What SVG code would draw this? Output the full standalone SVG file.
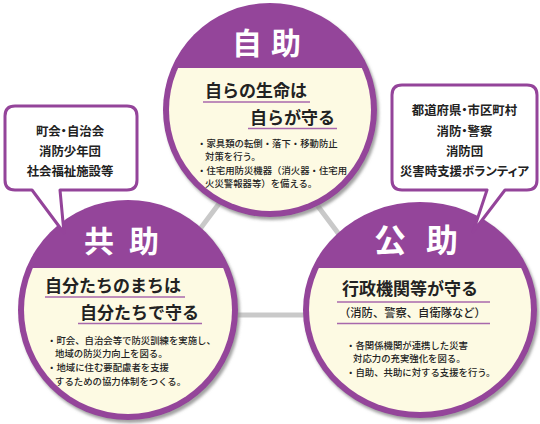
<svg xmlns="http://www.w3.org/2000/svg" width="540" height="424" viewBox="0 0 540 424">
<defs>
<style>
.ring{fill:#94449a;}
.cream{fill:#fdfae3;}
.title{font-family:"Noto Sans CJK JP","Noto Sans",sans-serif;font-weight:bold;fill:#ffffff;}
.head{font-family:"Noto Sans CJK JP","Noto Sans",sans-serif;font-weight:bold;font-size:17px;fill:#222222;}
.sub{font-family:"Noto Sans CJK JP","Noto Sans",sans-serif;font-weight:500;font-size:11.3px;fill:#222222;}
.body{font-family:"Noto Sans CJK JP","Noto Sans",sans-serif;font-weight:500;font-size:9.4px;fill:#222222;}
.bub{font-family:"Noto Sans CJK JP","Noto Sans",sans-serif;font-weight:bold;font-size:12.4px;fill:#222222;text-anchor:middle;font-feature-settings:"palt";}
.uline{stroke:#a868ac;stroke-width:1.3;fill:none;}
.bubble{fill:#ffffff;stroke:#94449a;stroke-width:3;stroke-linejoin:round;}
.conn{stroke:#c9c9c9;stroke-width:5;fill:none;}
</style>
<filter id="sh" x="-10%" y="-10%" width="125%" height="125%">
<feDropShadow dx="2" dy="3" stdDeviation="1.5" flood-color="#8a8a8a" flood-opacity="0.8"/>
</filter>
<clipPath id="cTop"><rect x="0" y="68" width="540" height="356"/></clipPath>
<clipPath id="cLow"><rect x="0" y="268" width="540" height="156"/></clipPath>
</defs>
<rect width="540" height="424" fill="#ffffff"/>

<g id="connectors">
<line class="conn" x1="230" y1="189" x2="185" y2="249"/>
<line class="conn" x1="305" y1="189" x2="350" y2="249"/>
<line class="conn" x1="200" y1="315" x2="340" y2="315"/>
</g>

<g id="jijo">
<circle class="ring" cx="270" cy="110" r="107" filter="url(#sh)"/>
<circle class="cream" cx="270" cy="110" r="101" clip-path="url(#cTop)"/>
<text class="title" x="232" y="54" font-size="30" letter-spacing="9">自助</text>
<text class="head" x="205" y="97">自らの生命は</text>
<line class="uline" x1="203" y1="102" x2="310" y2="102"/>
<text class="head" x="250" y="124">自らが守る</text>
<line class="uline" x1="248" y1="128.5" x2="337" y2="128.5"/>
<text class="body" x="197" y="147">・家具類の転倒・落下・移動防止</text>
<text class="body" x="205" y="160">対策を行う。</text>
<text class="body" x="197" y="174">・住宅用防災機器（消火器・住宅用</text>
<text class="body" x="205" y="187">火災警報器等）を備える。</text>
</g>

<g id="kyojo">
<circle class="ring" cx="128" cy="310" r="110" filter="url(#sh)"/>
<circle class="cream" cx="128" cy="310" r="104" clip-path="url(#cLow)"/>
<text class="title" x="84" y="252" font-size="30" letter-spacing="15">共助</text>
<text class="head" x="45" y="292">自分たちのまちは</text>
<line class="uline" x1="45" y1="297" x2="185" y2="297"/>
<text class="head" x="80" y="319">自分たちで守る</text>
<line class="uline" x1="78" y1="323.5" x2="202" y2="323.5"/>
<text class="body" x="47" y="344">・町会、自治会等で防災訓練を実施し、</text>
<text class="body" x="55" y="357">地域の防災力向上を図る。</text>
<text class="body" x="47" y="371">・地域に住む要配慮者を支援</text>
<text class="body" x="55" y="385">するための協力体制をつくる。</text>
</g>

<g id="kojo">
<ellipse class="ring" cx="420" cy="310" rx="117" ry="108" filter="url(#sh)"/>
<ellipse class="cream" cx="420" cy="310" rx="111" ry="102" clip-path="url(#cLow)"/>
<text class="title" x="374" y="252" font-size="32" letter-spacing="20">公助</text>
<text class="head" x="342" y="295" font-size="17.5">行政機関等が守る</text>
<line class="uline" x1="337" y1="302" x2="490" y2="302"/>
<text class="sub" x="339" y="317">（消防、警察、自衛隊など）</text>
<line class="uline" x1="337" y1="323.5" x2="490" y2="323.5"/>
<text class="body" x="346" y="349">・各関係機関が連携した災害</text>
<text class="body" x="353" y="362">対応力の充実強化を図る。</text>
<text class="body" x="346" y="376">・自助、共助に対する支援を行う。</text>
</g>

<g id="bubble-left">
<path class="bubble" d="M15,106 H127 Q137,106 137,116 V180 Q137,190 127,190 H60 L64,233 L32,190 H15 Q5,190 5,180 V116 Q5,106 15,106 Z"/>
<text class="bub" x="70" y="136">町会・自治会</text>
<text class="bub" x="70" y="156">消防少年団</text>
<text class="bub" x="70" y="176">社会福祉施設等</text>
</g>

<g id="bubble-right">
<path class="bubble" d="M402,85 H527 Q537,85 537,95 V180 Q537,190 527,190 H505 L473,232 L487,190 H402 Q392,190 392,180 V95 Q392,85 402,85 Z"/>
<text class="bub" x="464.5" y="115">都道府県・市区町村</text>
<text class="bub" x="464.5" y="136">消防・警察</text>
<text class="bub" x="464.5" y="156">消防団</text>
<text class="bub" x="464.5" y="176">災害時支援ボランティア</text>
</g>
</svg>
